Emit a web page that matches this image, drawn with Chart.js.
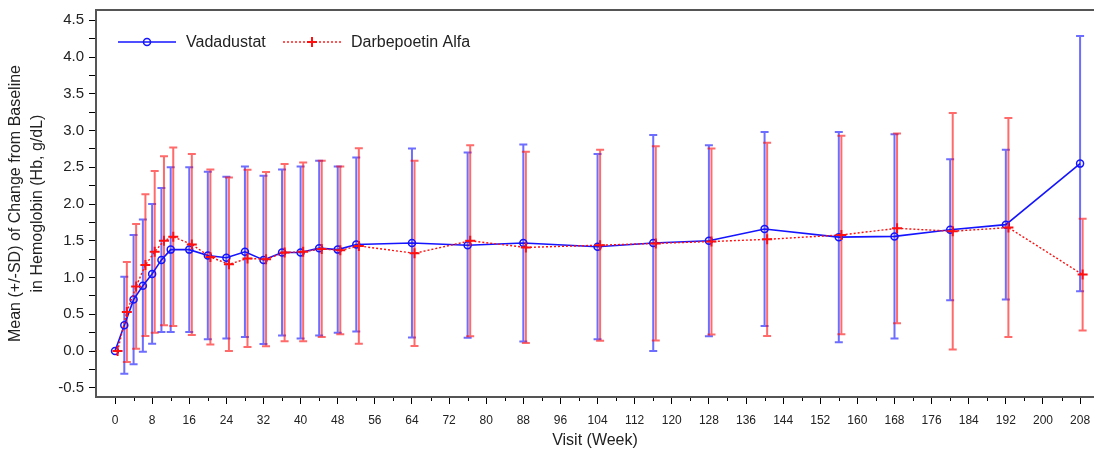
<!DOCTYPE html>
<html>
<head>
<meta charset="utf-8">
<title>Mean change from baseline in hemoglobin</title>
<script src="https://cdn.jsdelivr.net/npm/chart.js@4.4.1/dist/chart.umd.min.js"></script>
<style>
	html, body { margin: 0; padding: 0; background: #fff; overflow: hidden; }
</style>
</head>
<body>
<canvas class="chart-hb" width="1094" height="452"></canvas>
<script>
// visit weeks and mean (+/- SD) change from baseline in Hb, g/dL
const weeks = [0, 2, 4, 6, 8, 10, 12, 16, 20, 24, 28, 32, 36, 40, 44, 48, 52, 64, 76, 88, 104, 116, 128, 140, 156, 168, 180, 192, 208];

const vadadustatMean = [0.00, 0.35, 0.70, 0.89, 1.05, 1.24, 1.38, 1.38, 1.30, 1.27, 1.35, 1.24, 1.34, 1.34, 1.40, 1.38, 1.45, 1.47, 1.44, 1.47, 1.42, 1.47, 1.50, 1.66, 1.55, 1.56, 1.65, 1.72, 2.55];
const vadadustatSD = [0, 0.66, 0.88, 0.90, 0.95, 0.98, 1.12, 1.12, 1.14, 1.10, 1.16, 1.145, 1.13, 1.17, 1.19, 1.13, 1.185, 1.285, 1.26, 1.34, 1.26, 1.47, 1.30, 1.32, 1.43, 1.39, 0.96, 1.02, 1.735];

const darbepoetinMean = [0.00, 0.53, 0.88, 1.17, 1.35, 1.50, 1.555, 1.45, 1.28, 1.18, 1.26, 1.25, 1.34, 1.35, 1.39, 1.37, 1.43, 1.33, 1.50, 1.41, 1.44, 1.465, 1.49, 1.52, 1.58, 1.67, 1.63, 1.68, 1.04];
const darbepoetinSD = [0, 0.68, 0.85, 0.965, 1.10, 1.15, 1.215, 1.23, 1.19, 1.18, 1.205, 1.185, 1.205, 1.215, 1.20, 1.14, 1.33, 1.26, 1.30, 1.30, 1.30, 1.32, 1.265, 1.315, 1.35, 1.29, 1.61, 1.49, 0.76];

const xTicks = [0, 8, 16, 24, 32, 40, 48, 56, 64, 72, 80, 88, 96, 104, 112, 120, 128, 136, 144, 152, 160, 168, 176, 184, 192, 200, 208];
const xMinorTicks = [4, 12, 20, 28, 36, 44, 52, 60, 68, 76, 84, 92, 100, 108, 116, 124, 132, 140, 148, 156, 164, 172, 180, 188, 196, 204];
const yTicks = [-0.5, 0.0, 0.5, 1.0, 1.5, 2.0, 2.5, 3.0, 3.5, 4.0, 4.5];
const yMinorTicks = [-0.25, 0.25, 0.75, 1.25, 1.75, 2.25, 2.75, 3.25, 3.75, 4.25];

// darbepoetin points are nudged right so the bars don't sit on top of each other
const darbShift = 0.55;

const blue = "#1414ff";
const red = "#ff1010";
const blueBar = "rgba(20, 20, 255, 0.62)";
const redBar = "rgba(255, 16, 16, 0.62)";
const frameColour = "#555";

Chart.defaults.font.family = "'Liberation Sans', Arial, sans-serif";
Chart.defaults.color = "#222";

const errorBars = {
	id: "errorBars",
	beforeDatasetsDraw(chart) {
		const ctx = chart.ctx;
		const yScale = chart.scales.y;
		[0, 1].forEach((i) => {
			const ds = chart.data.datasets[i];
			const meta = chart.getDatasetMeta(i);
			ctx.save();
			ctx.strokeStyle = ds.barColour;
			ctx.lineWidth = 2;
			meta.data.forEach((pt, j) => {
				const sd = ds.sd[j];
				if (!sd) return;
				const mean = ds.data[j].y;
				const yTop = yScale.getPixelForValue(mean + sd);
				const yBot = yScale.getPixelForValue(mean - sd);
				ctx.beginPath();
				ctx.moveTo(pt.x, yTop);
				ctx.lineTo(pt.x, yBot);
				ctx.moveTo(pt.x - 4, yTop);
				ctx.lineTo(pt.x + 4, yTop);
				ctx.moveTo(pt.x - 4, yBot);
				ctx.lineTo(pt.x + 4, yBot);
				ctx.stroke();
			});
			ctx.restore();
		});
	},
};

const minorTicks = {
	id: "minorTicks",
	afterDraw(chart) {
		const ctx = chart.ctx;
		const x = chart.scales.x;
		const bottom = chart.chartArea.bottom;
		ctx.save();
		ctx.strokeStyle = "#000";
		ctx.lineWidth = 1;
		xMinorTicks.forEach((v) => {
			const px = Math.round(x.getPixelForValue(v)) + 0.5;
			ctx.beginPath();
			ctx.moveTo(px, bottom + 1);
			ctx.lineTo(px, bottom + 4);
			ctx.stroke();
		});
		ctx.restore();
	},
};

const insideLegend = {
	id: "insideLegend",
	afterDraw(chart) {
		const ctx = chart.ctx;
		const left = chart.chartArea.left;
		const y = chart.chartArea.top + 32;
		const items = [
			{ ds: chart.data.datasets[0], x0: left + 22 },
			{ ds: chart.data.datasets[1], x0: left + 187 },
		];
		ctx.save();
		items.forEach(({ ds, x0 }) => {
			ctx.strokeStyle = ds.borderColor;
			ctx.lineWidth = ds.borderWidth;
			ctx.setLineDash(ds.borderDash || []);
			ctx.beginPath();
			ctx.moveTo(x0, y);
			ctx.lineTo(x0 + 58, y);
			ctx.stroke();
			ctx.setLineDash([]);
			ctx.fillStyle = "rgba(0,0,0,0)";
			ctx.lineWidth = ds.pointBorderWidth;
			Chart.helpers.drawPoint(ctx, { pointStyle: ds.pointStyle, radius: ds.pointRadius, borderWidth: ds.pointBorderWidth, rotation: 0 }, x0 + 29, y);
			ctx.fillStyle = "#222";
			ctx.font = "16px 'Liberation Sans', Arial, sans-serif";
			ctx.textBaseline = "middle";
			ctx.fillText(ds.label, x0 + 68, y + 1);
		});
		ctx.restore();
	},
};

const chartHb = document.querySelector(".chart-hb");

createChart(chartHb);

function createChart(canvasElement) {
	new Chart(canvasElement, {
		type: "line",
		data: {
			datasets: [
				{
					label: "Vadadustat",
					data: weeks.map((w, i) => ({ x: w, y: vadadustatMean[i] })),
					sd: vadadustatSD,
					barColour: blueBar,
					borderColor: blue,
					borderWidth: 1.6,
					pointStyle: "circle",
					pointRadius: 3.5,
					pointBorderWidth: 1.5,
					pointBorderColor: blue,
					pointBackgroundColor: "rgba(0,0,0,0)",
					order: 1,
				},
				{
					label: "Darbepoetin Alfa",
					data: weeks.map((w, i) => ({ x: w + darbShift, y: darbepoetinMean[i] })),
					sd: darbepoetinSD,
					barColour: redBar,
					borderColor: red,
					borderWidth: 1.4,
					borderDash: [2, 2],
					pointStyle: "cross",
					pointRadius: 5,
					pointBorderWidth: 2,
					pointBorderColor: red,
					order: 0,
				},
			],
		},
		options: {
			responsive: false,
			animation: false,
			layout: { autoPadding: false, padding: { top: 10, left: 0, right: 0, bottom: 0 } },
			plugins: {
				legend: { display: false },
				tooltip: { enabled: false },
			},
			scales: {
				x: {
					type: "linear",
					position: "bottom",
					min: -4.1,
					max: 211,
					afterBuildTicks: (scale) => {
						scale.ticks = xTicks.map((v) => ({ value: v }));
					},
					afterFit: (scale) => {
						scale.height = 55;
						scale.paddingLeft = 0;
						scale.paddingRight = 0;
					},
					ticks: { font: { size: 12 }, padding: 9, autoSkip: false, maxRotation: 0, color: "#222" },
					grid: { drawOnChartArea: false, tickLength: 7, color: "#000" },
					border: { color: frameColour, width: 2 },
					title: { display: true, text: "Visit (Week)", font: { size: 16 }, padding: { top: 0, bottom: 2 } },
				},
				xTop: {
					type: "linear",
					position: "top",
					min: -4.1,
					max: 211,
					ticks: { display: false },
					grid: { display: false, drawTicks: false },
					border: { color: frameColour, width: 2 },
					afterFit: (scale) => {
						scale.height = 0;
						scale.paddingLeft = 0;
						scale.paddingRight = 0;
					},
				},
				y: {
					min: -0.625,
					max: 4.64,
					afterBuildTicks: (scale) => {
						scale.ticks = yTicks.concat(yMinorTicks).sort((a, b) => a - b).map((v) => ({ value: v }));
					},
					afterFit: (scale) => {
						scale.width = 96;
						scale.paddingTop = 0;
						scale.paddingBottom = 0;
					},
					ticks: {
						font: { size: 15 },
						padding: 5,
						autoSkip: false,
						color: "#222",
						callback: (value) => (yTicks.includes(value) ? value.toFixed(1) : ""),
					},
					grid: { drawOnChartArea: false, tickLength: 7, color: "#000" },
					border: { color: frameColour, width: 2 },
					title: {
						display: true,
						text: ["Mean (+/-SD) of Change from Baseline", "in Hemoglobin (Hb, g/dL)"],
						font: { size: 16, lineHeight: 1.375 },
						padding: { top: 5, bottom: 0 },
					},
				},
			},
		},
		plugins: [errorBars, minorTicks, insideLegend],
	});
}
</script>
</body>
</html>
